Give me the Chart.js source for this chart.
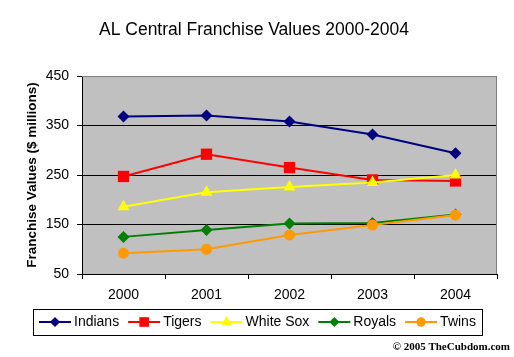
<!DOCTYPE html>
<html>
<head>
<meta charset="utf-8">
<script src="https://cdn.jsdelivr.net/npm/chart.js@4/dist/chart.umd.min.js"></script>
<style>
html,body{margin:0;padding:0;background:#fff;}
#wrap{width:514px;height:357px;position:relative;}
</style>
</head>
<body>
<div id="wrap"><canvas id="c" width="514" height="357"></canvas></div>
<script>
const titleText = "AL Central Franchise Values 2000-2004";
const yAxisTitle = "Franchise Values ($ millions)";
const copyrightText = "\u00A9 2005 TheCubdom.com";
const years = ["2000", "2001", "2002", "2003", "2004"];
const yTicks = [50, 150, 250, 350, 450];
const seriesNames = ["Indians", "Tigers", "White Sox", "Royals", "Twins"];
const indians = [368, 370, 358, 332, 294];
const tigers = [247, 292, 265, 240, 238];
const whiteSox = [186, 215, 226, 235, 250];
const royals = [125, 139, 152, 153, 170];
const twins = [92, 100, 129, 149, 169];

const seriesValues = [indians, tigers, whiteSox, royals, twins];
const colors = ["#000080", "#FF0000", "#FFFF00", "#008000", "#FF9900"];
const styles = ["rectRot", "rect", "triangle", "rectRot", "circle"];
const radii = [6, 8, 7, 6, 5.5];
const FONT = 'Arial, "Liberation Sans", sans-serif';

const datasets = seriesNames.map((n, i) => ({
  label: n,
  data: seriesValues[i],
  borderColor: colors[i],
  backgroundColor: colors[i],
  pointBackgroundColor: colors[i],
  pointBorderColor: colors[i],
  pointBorderWidth: 0,
  pointStyle: styles[i],
  pointRadius: radii[i],
  pointHoverRadius: radii[i],
  borderWidth: 2,
  tension: 0,
  order: seriesNames.length - i,
  clip: false
}));

const decor = {
  id: 'decor',
  beforeDatasetsDraw(chart) {
    const ctx = chart.ctx, a = chart.chartArea;
    ctx.save();
    ctx.strokeStyle = '#808080';
    ctx.lineWidth = 1;
    ctx.beginPath();
    ctx.moveTo(Math.round(a.left), Math.round(a.top) + 0.5);
    ctx.lineTo(Math.round(a.right) - 0.5, Math.round(a.top) + 0.5);
    ctx.lineTo(Math.round(a.right) - 0.5, Math.round(a.bottom));
    ctx.stroke();
    ctx.restore();
  },
  beforeDraw(chart) {
    const ctx = chart.ctx, a = chart.chartArea;
    ctx.save();
    ctx.fillStyle = '#fff';
    ctx.fillRect(0, 0, chart.width, chart.height);
    ctx.fillStyle = '#C0C0C0';
    ctx.fillRect(a.left, a.top, a.right - a.left, a.bottom - a.top);
    ctx.restore();
  },
  afterDraw(chart) {
    const ctx = chart.ctx;
    ctx.save();
    // title
    ctx.fillStyle = '#000';
    ctx.font = '17.5px ' + FONT;
    ctx.textAlign = 'center';
    ctx.textBaseline = 'middle';
    ctx.fillText(titleText, 254, 30);
    // legend
    const bx = 33.5, by = 309.5, bw = 449, bh = 26;
    ctx.strokeStyle = '#000';
    ctx.lineWidth = 1;
    ctx.strokeRect(bx, by, bw, bh);
    ctx.font = '14px ' + FONT;
    ctx.textAlign = 'left';
    ctx.textBaseline = 'middle';
    const cy = 322;
    let x = 39;
    seriesNames.forEach((n, i) => {
      ctx.strokeStyle = colors[i];
      ctx.lineWidth = 2;
      ctx.beginPath();
      ctx.moveTo(x, cy);
      ctx.lineTo(x + 32, cy);
      ctx.stroke();
      ctx.fillStyle = colors[i];
      ctx.strokeStyle = colors[i];
      Chart.helpers.drawPoint(ctx, {pointStyle: styles[i], radius: radii[i] * 0.85, borderWidth: 0, rotation: 0}, x + 16, cy);
      ctx.fillStyle = '#000';
      ctx.fillText(n, x + 35, cy);
      x = x + 35 + ctx.measureText(n).width + 9;
    });
    // copyright
    ctx.font = 'bold 11px "Times New Roman", "Liberation Serif", serif';
    ctx.textAlign = 'right';
    ctx.fillStyle = '#000';
    ctx.fillText(copyrightText, 510, 347);
    ctx.restore();
  }
};

new Chart(document.getElementById('c'), {
  type: 'line',
  data: { labels: years, datasets: datasets },
  options: {
    responsive: false,
    animation: false,
    events: [],
    layout: { padding: { top: 76, right: 17, left: 0, bottom: 48 } },
    plugins: { legend: { display: false }, title: { display: false }, tooltip: { enabled: false } },
    scales: {
      x: {
        type: 'category',
        offset: true,
        afterFit(s) { s.height = 35; },
        grid: { offset: true, drawOnChartArea: false, color: '#000', tickColor: '#000', tickLength: 5, lineWidth: 1 },
        border: { display: true, color: '#000', width: 1 },
        ticks: { color: '#000', font: { family: FONT, size: 14 }, padding: 8, maxRotation: 0 }
      },
      y: {
        min: 50, max: 450,
        afterFit(s) { s.width = 82; },
        afterBuildTicks(s) { s.ticks = yTicks.map(v => ({ value: v })); },
        grid: {
          color: (c) => (c.tick && c.tick.value === 450) ? '#808080' : '#000',
          tickColor: '#000', tickLength: 5, lineWidth: 1
        },
        border: { display: true, color: '#000', width: 1 },
        ticks: { color: '#000', font: { family: FONT, size: 14 }, padding: 8, stepSize: 100 },
        title: { display: true, text: yAxisTitle, color: '#000', font: { family: FONT, size: 13.5, weight: 'bold' }, padding: { top: 24, bottom: 0 } }
      }
    }
  },
  plugins: [decor]
});
</script>
</body>
</html>
